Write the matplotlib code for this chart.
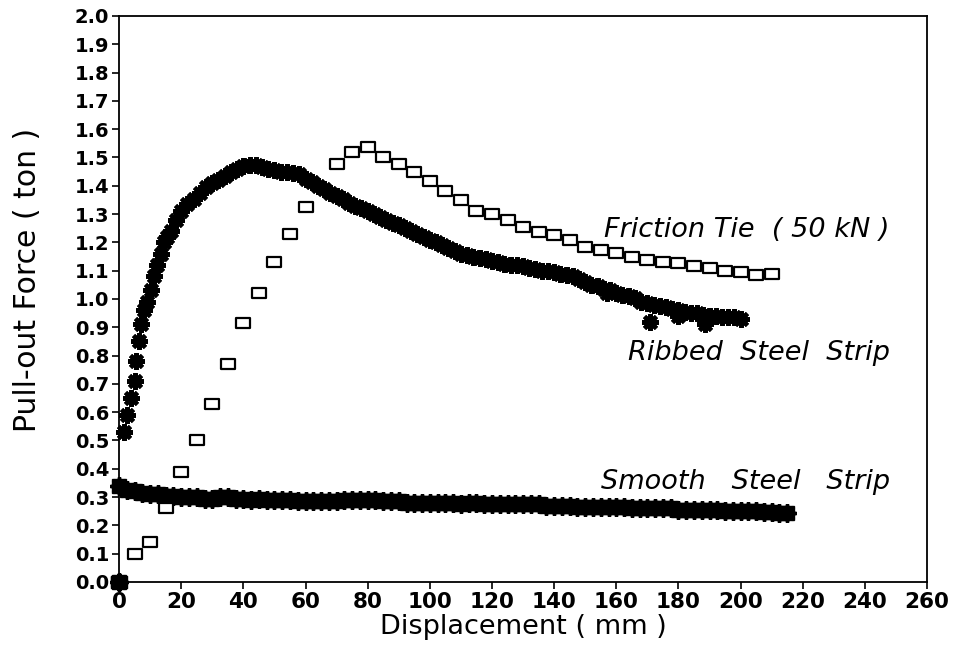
import numpy as np
import matplotlib
matplotlib.use("Agg")
import matplotlib.pyplot as plt
from matplotlib.path import Path

plt.rcParams['font.family'] = ['DejaVu Sans']

# Friction tie (50 kN), one reading every 5 mm (none at 65 mm)
friction_x = [0, 5, 10, 15, 20, 25, 30, 35, 40, 45, 50, 55, 60,
              70, 75, 80, 85, 90, 95, 100, 105, 110, 115, 120, 125, 130, 135, 140,
              145, 150, 155, 160, 165, 170, 175, 180, 185, 190, 195, 200, 205, 210]
friction_y = [0.0, 0.10, 0.14, 0.26, 0.39, 0.50, 0.63, 0.77, 0.915, 1.02, 1.13, 1.23, 1.325,
              1.477, 1.52, 1.537, 1.50, 1.477, 1.45, 1.417, 1.38, 1.35, 1.31, 1.30, 1.28,
              1.255, 1.237, 1.226, 1.208, 1.184, 1.173, 1.163, 1.148, 1.138, 1.13, 1.127,
              1.117, 1.11, 1.10, 1.095, 1.085, 1.09]

# Ribbed steel strip
ribbed_x = [0, 1.6, 2.6, 3.8, 5.0, 5.5, 6.4, 7.1, 8.1, 9.0, 10.2, 11.3, 12.3, 13.5, 14.5,
            15.5, 16.7, 18.3, 20, 22, 24, 26, 28, 30, 32, 34, 36, 38, 40, 42, 44, 46, 48,
            50, 52, 54, 56, 58, 60, 62, 64, 66, 68, 70, 72, 74, 76, 78, 80, 82, 84, 86,
            88, 90, 92, 94, 96, 98, 100, 102, 104, 106, 108, 110, 112, 114, 116, 118, 120,
            122, 124, 126, 128, 130, 132, 134, 136, 138, 140, 142, 144, 146, 148, 150, 152,
            154, 156, 158, 160, 162, 164, 166, 168, 170, 172, 174, 176, 178, 180, 182, 184,
            186, 188, 190, 192, 194, 196, 198, 200, 157, 171, 180, 188.5]
ribbed_y = [0.0, 0.53, 0.59, 0.65, 0.71, 0.78, 0.85, 0.91, 0.96, 0.99, 1.03, 1.08, 1.12, 1.16, 1.20,
            1.22, 1.24, 1.28, 1.31, 1.335, 1.355, 1.375, 1.395, 1.41, 1.42, 1.435, 1.45, 1.46,
            1.47, 1.475, 1.475, 1.465, 1.46, 1.455, 1.45, 1.45, 1.445, 1.44, 1.425, 1.415,
            1.40, 1.39, 1.375, 1.365, 1.355, 1.34, 1.33, 1.32, 1.31, 1.30, 1.29, 1.28, 1.27,
            1.26, 1.25, 1.24, 1.23, 1.22, 1.21, 1.20, 1.19, 1.18, 1.17, 1.16, 1.155, 1.15,
            1.145, 1.14, 1.135, 1.13, 1.125, 1.12, 1.12, 1.115, 1.11, 1.105, 1.10, 1.10,
            1.095, 1.09, 1.085, 1.08, 1.07, 1.06, 1.05, 1.045, 1.035, 1.03, 1.02, 1.015,
            1.01, 1.005, 0.99, 0.985, 0.98, 0.975, 0.97, 0.965, 0.96, 0.955, 0.95, 0.95,
            0.945, 0.94, 0.94, 0.935, 0.935, 0.935, 0.93, 1.02, 0.92, 0.94, 0.91]

# Smooth steel strip, sampled every 2.5 mm
smooth_x = [0] + list(np.arange(0, 215.1, 2.5))
smooth_y = [0.0, 0.34, 0.325, 0.32, 0.315, 0.31, 0.31, 0.305, 0.305, 0.30, 0.30, 0.30, 0.295,
            0.295, 0.30, 0.30, 0.295, 0.295, 0.29, 0.295, 0.29, 0.29, 0.29, 0.29, 0.285,
            0.285, 0.285, 0.285, 0.285, 0.285, 0.29, 0.29, 0.29, 0.29, 0.29, 0.285, 0.285,
            0.285, 0.28, 0.28, 0.28, 0.28, 0.28, 0.28, 0.28, 0.275, 0.28, 0.28, 0.275,
            0.275, 0.275, 0.275, 0.275, 0.275, 0.275, 0.275, 0.27, 0.27, 0.27, 0.27, 0.265,
            0.265, 0.265, 0.265, 0.265, 0.265, 0.265, 0.26, 0.26, 0.26, 0.26, 0.26, 0.26,
            0.255, 0.255, 0.255, 0.255, 0.255, 0.255, 0.25, 0.25, 0.25, 0.25, 0.25, 0.248,
            0.248, 0.245, 0.245]

x_ticks = list(range(0, 261, 20))
y_ticks = [round(v * 0.1, 1) for v in range(0, 21)]

rect = Path([(-1.3, -1), (1.3, -1), (1.3, 1), (-1.3, 1), (-1.3, -1)],
            [Path.MOVETO, Path.LINETO, Path.LINETO, Path.LINETO, Path.CLOSEPOLY])

fig = plt.figure(figsize=(9.57, 6.6), dpi=100)
ax = fig.add_axes([0.1244, 0.1182, 0.8443, 0.8576])

# smooth strip: dense solid band with ragged edge
ax.plot(smooth_x, smooth_y, linestyle='none', marker='s', ms=10.5, color='black', clip_on=False)
ax.plot(smooth_x, smooth_y, linestyle='none', marker=(8, 2, 0), ms=13, color='black',
        markeredgewidth=2.5, clip_on=False)
ax.plot(ribbed_x, ribbed_y, linestyle='none', marker=(8, 2, 0), ms=12, color='black',
        markeredgewidth=3.0, clip_on=False)
ax.plot(friction_x, friction_y, linestyle='none', marker=rect, ms=10, markerfacecolor='white',
        markeredgecolor='black', markeredgewidth=1.6, clip_on=False)
# start point is drawn solid in the original
ax.plot(friction_x[:1], friction_y[:1], linestyle='none', marker=rect, ms=12,
        color='black', clip_on=False)

ax.set_xlim(0, 260)
ax.set_ylim(0, 2.0)
ax.set_xticks(x_ticks)
ax.set_yticks(y_ticks)
ax.set_yticklabels([f'{v:.1f}' for v in y_ticks])
ax.tick_params(axis='both', direction='out', length=5, width=1.2, pad=2)
for lbl in ax.get_yticklabels():
    lbl.set_fontsize(14)
    lbl.set_fontweight('bold')
for lbl in ax.get_xticklabels():
    lbl.set_fontsize(15.5)
    lbl.set_fontweight('bold')
for s in ax.spines.values():
    s.set_linewidth(1.3)

ax.set_xlabel('Displacement ( mm )', fontsize=19.5, labelpad=2)
ax.set_ylabel('Pull-out Force ( ton )', fontsize=21.5)
ax.yaxis.set_label_coords(-0.095, 0.534)

ax.text(248, 1.245, 'Friction Tie  ( 50 kN )', style='italic', fontsize=19.5,
        ha='right', va='center')
ax.text(248, 0.81, 'Ribbed  Steel  Strip', style='italic', fontsize=19.5,
        ha='right', va='center')
ax.text(248, 0.355, 'Smooth   Steel   Strip', style='italic', fontsize=19.5,
        ha='right', va='center')

fig.savefig('out.png', dpi=100)
